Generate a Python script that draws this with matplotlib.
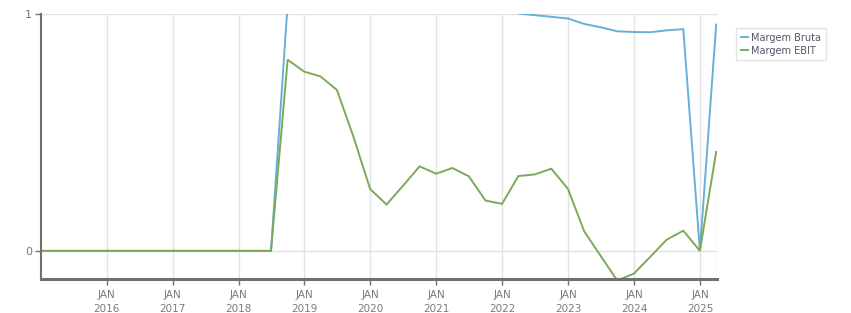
import matplotlib
matplotlib.use("Agg")
import matplotlib.pyplot as plt
import matplotlib.dates as mdates
import pandas as pd

# Quarter-end dates from Dec 2014 to Mar 2025
dates = pd.date_range("2014-12-31", "2025-03-31", freq="QE")

zeros = [0.0] * 15  # Dec 2014 .. Jun 2018

margem_bruta = zeros + [
    1.04, 1.08, 1.10, 1.12, 1.10, 1.08, 1.10, 1.12, 1.10, 1.08, 1.06, 1.05, 1.04, 1.03,
    1.000, 0.993, 0.986, 0.979, 0.956, 0.942, 0.925, 0.922, 0.921, 0.929, 0.934,
    0.000, 0.953,
]

margem_ebit = zeros + [
    0.805, 0.755, 0.735, 0.678, 0.48, 0.261, 0.195, 0.274, 0.356, 0.325, 0.349,
    0.314, 0.212, 0.198, 0.315, 0.322, 0.346, 0.261, 0.082, -0.021, -0.125,
    -0.096, -0.025, 0.047, 0.085, 0.0, 0.417,
]

series_names = ["Margem Bruta", "Margem EBIT"]
series_colors = ["#6aaed6", "#7aaa5a"]
tick_years = list(range(2016, 2026))

fig = plt.figure(figsize=(8.51, 3.13), dpi=100)
ax = fig.add_axes([40.5 / 851, 1 - 279 / 313, (716.7 - 40.5) / 851, (279 - 13.5) / 313])

for vals, name, col in zip([margem_bruta, margem_ebit], series_names, series_colors):
    ax.plot(dates, vals, color=col, lw=1.4, label=name, solid_joinstyle="miter")

ax.set_ylim(-0.1186, 1.0)
ax.set_xlim(dates[0], dates[-1] + pd.Timedelta(days=3))

ax.set_yticks([0, 1])
ax.set_yticklabels(["0", "1"])
ax.set_xticks([pd.Timestamp(f"{y}-01-01") for y in tick_years])
ax.set_xticklabels([f"JAN\n{y}" for y in tick_years])

ax.grid(True, color="#e2e2e2", lw=1)
ax.set_axisbelow(True)
for s in ["top", "right"]:
    ax.spines[s].set_visible(False)
ax.spines["left"].set_color("#707070")
ax.spines["left"].set_linewidth(1.5)
ax.spines["bottom"].set_color("#707070")
ax.spines["bottom"].set_linewidth(2.2)

# right edge gridline
ax.axvline(ax.get_xlim()[1], color="#e2e2e2", lw=1, zorder=0)

ax.tick_params(axis="y", length=4, width=1, color="#707070", labelsize=8,
               labelcolor="#6a7590", pad=2)
ax.tick_params(axis="x", length=4, width=1, color="#707070", labelsize=7.5,
               labelcolor="#7a7a7a", pad=4)
for lbl in ax.get_xticklabels():
    lbl.set_linespacing(1.5)

leg = ax.legend(loc="upper left", bbox_to_anchor=(1.029, 0.946), frameon=True,
                fontsize=7, handlelength=0.7, handletextpad=0.3, borderpad=0.5,
                labelspacing=0.3, fancybox=False, edgecolor="#dddddd",
                borderaxespad=0)
for t in leg.get_texts():
    t.set_color("#555566")

fig.savefig("out.png", dpi=100)
